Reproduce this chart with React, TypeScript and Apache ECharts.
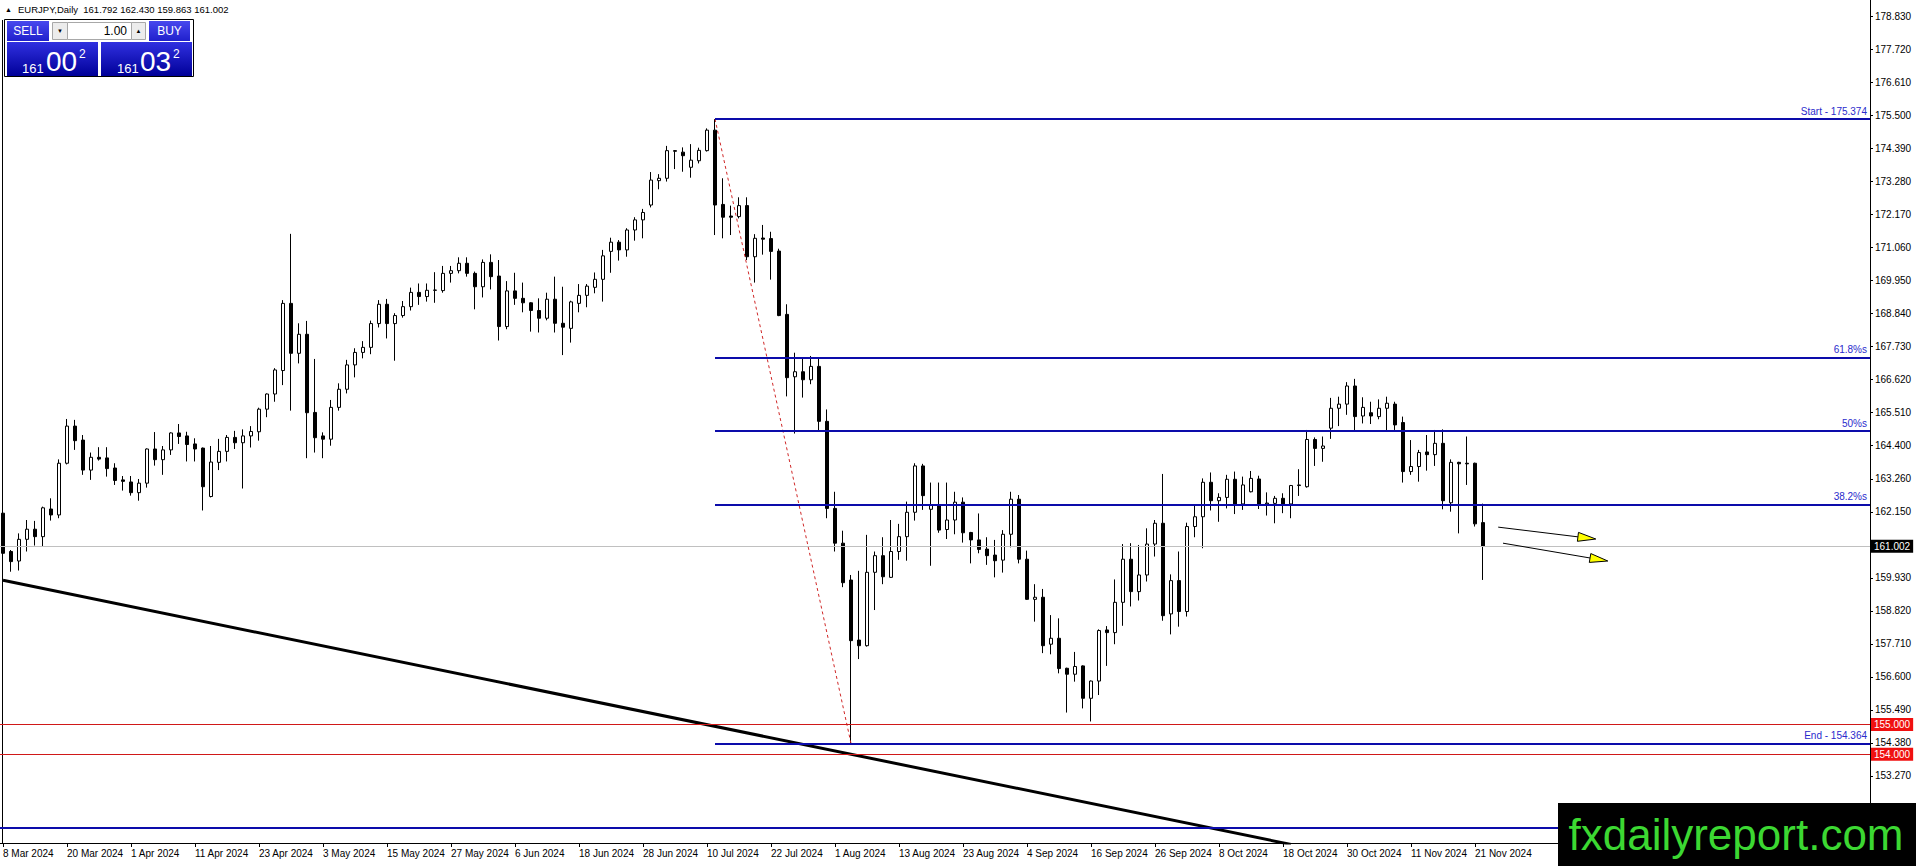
import { useEffect, useRef } from "react";
import * as echarts from "echarts";

// bar k*8 carries the k-th date label
const dateLabels = [
  "8 Mar 2024", "20 Mar 2024", "1 Apr 2024", "11 Apr 2024", "23 Apr 2024", "3 May 2024",
  "15 May 2024", "27 May 2024", "6 Jun 2024", "18 Jun 2024", "28 Jun 2024", "10 Jul 2024",
  "22 Jul 2024", "1 Aug 2024", "13 Aug 2024", "23 Aug 2024", "4 Sep 2024", "16 Sep 2024",
  "26 Sep 2024", "8 Oct 2024", "18 Oct 2024", "30 Oct 2024", "11 Nov 2024", "21 Nov 2024"
];

const priceTicks = [
  178.83, 177.72, 176.61, 175.5, 174.39, 173.28, 172.17, 171.06, 169.95, 168.84, 167.73,
  166.62, 165.51, 164.4, 163.26, 162.15, 159.93, 158.82, 157.71, 156.6, 155.49, 154.38, 153.27
];

// daily bars, [open, close, low, high]
const candles = [
  [162.11, 160.76, 160.56, 162.22], [160.82, 160.48, 160.14, 160.87], [160.5, 161.23, 160.18, 161.43],
  [161.23, 161.57, 160.82, 161.88], [161.57, 161.32, 161.02, 161.85], [161.32, 162.29, 160.98, 162.33],
  [162.25, 162.05, 161.86, 162.61], [162.05, 163.79, 161.94, 163.92], [163.79, 165.04, 163.75, 165.28],
  [165.04, 164.55, 164.24, 165.25], [164.57, 163.56, 163.4, 164.74], [163.56, 163.99, 163.23, 164.15],
  [163.99, 163.93, 163.88, 164.33], [163.97, 163.61, 163.34, 164.33], [163.63, 163.21, 163.06, 163.79],
  [163.23, 163.18, 162.87, 163.36], [163.16, 162.8, 162.7, 163.36], [162.8, 163.12, 162.53, 163.26],
  [163.12, 164.27, 162.97, 164.29], [164.27, 163.91, 163.71, 164.84], [163.91, 164.24, 163.4, 164.37],
  [164.24, 164.81, 164.07, 164.83], [164.81, 164.69, 164.44, 165.11], [164.71, 164.42, 163.85, 164.85],
  [164.44, 164.27, 163.85, 164.63], [164.3, 163.0, 162.2, 164.32], [162.67, 163.83, 162.64, 164.37],
  [163.82, 164.19, 163.56, 164.61], [164.19, 164.66, 163.85, 164.74], [164.66, 164.48, 164.27, 164.88],
  [164.48, 164.71, 162.94, 164.93], [164.71, 164.86, 164.32, 165.04], [164.85, 165.61, 164.55, 165.66],
  [165.61, 166.12, 165.34, 166.14], [166.12, 166.93, 165.86, 166.99], [166.91, 169.17, 166.42, 169.28],
  [169.17, 167.49, 165.56, 171.51], [167.49, 168.13, 167.15, 168.5], [168.13, 165.49, 163.96, 168.58],
  [165.5, 164.65, 164.15, 167.3], [164.71, 164.6, 163.96, 164.83], [164.6, 165.67, 164.38, 165.92],
  [165.67, 166.28, 165.56, 166.48], [166.28, 167.1, 166.14, 167.27], [167.1, 167.52, 166.68, 167.66],
  [167.52, 167.69, 167.32, 167.9], [167.69, 168.49, 167.46, 168.59], [168.49, 169.14, 168.36, 169.28],
  [169.14, 168.49, 167.99, 169.32], [168.49, 168.76, 167.24, 168.84], [168.76, 169.06, 168.69, 169.25],
  [169.06, 169.54, 168.93, 169.7], [169.54, 169.4, 169.12, 169.84], [169.4, 169.61, 169.23, 169.84],
  [169.61, 169.62, 169.19, 170.22], [169.6, 170.18, 169.53, 170.43], [170.18, 170.27, 169.87, 170.43],
  [170.27, 170.52, 170.18, 170.72], [170.52, 170.18, 170.07, 170.72], [170.18, 169.73, 168.97, 170.24],
  [169.73, 170.55, 169.37, 170.65], [170.55, 170.07, 169.64, 170.82], [170.09, 168.39, 167.92, 170.63],
  [168.39, 169.59, 168.3, 169.92], [169.59, 169.34, 169.12, 170.2], [169.34, 169.19, 168.87, 169.87],
  [169.19, 168.93, 168.22, 169.21], [168.93, 168.67, 168.19, 169.34], [168.67, 169.31, 168.6, 169.53],
  [169.31, 168.5, 168.19, 170.07], [168.5, 168.37, 167.43, 169.73], [168.33, 169.22, 167.85, 169.26],
  [169.17, 169.44, 168.87, 169.82], [169.44, 169.75, 169.04, 169.82], [169.71, 169.98, 169.51, 170.21],
  [169.98, 170.77, 169.23, 170.97], [170.92, 171.23, 170.2, 171.38], [171.23, 170.97, 170.61, 171.3],
  [170.97, 171.64, 170.74, 171.7], [171.64, 171.98, 171.28, 172.07], [171.98, 172.23, 171.36, 172.35],
  [172.48, 173.32, 172.4, 173.59], [173.3, 173.38, 173.01, 173.52], [173.38, 174.31, 173.27, 174.47],
  [174.31, 174.29, 173.69, 174.33], [174.26, 174.14, 173.6, 174.42], [173.75, 173.99, 173.4, 174.53],
  [173.97, 174.32, 173.88, 174.41], [174.31, 175.0, 174.28, 175.06], [175.0, 172.48, 171.47, 175.374],
  [172.5, 172.07, 171.36, 173.38], [172.11, 172.07, 171.47, 172.46], [172.09, 172.46, 172.03, 172.74],
  [172.46, 170.74, 170.63, 172.74], [170.74, 171.36, 169.87, 171.5], [171.37, 171.33, 170.81, 171.81],
  [171.35, 170.92, 169.97, 171.58], [170.93, 168.76, 168.74, 171.01], [168.8, 166.67, 166.04, 169.14],
  [166.7, 166.87, 164.79, 167.51], [166.87, 166.6, 166.0, 167.3], [166.6, 167.05, 166.45, 167.4],
  [167.05, 165.2, 164.9, 167.3], [165.2, 162.27, 161.94, 165.6], [162.27, 161.1, 160.82, 162.83],
  [161.1, 159.77, 159.62, 161.52], [159.86, 157.82, 154.364, 160.03], [157.84, 157.65, 157.2, 160.17],
  [157.65, 160.12, 157.62, 161.38], [160.12, 160.68, 158.85, 160.82], [160.68, 159.97, 159.72, 161.3],
  [159.95, 160.82, 159.93, 161.88], [160.82, 161.32, 160.54, 161.75], [161.32, 162.14, 160.51, 162.5],
  [162.14, 163.7, 161.86, 163.79], [163.7, 162.7, 162.22, 163.77], [162.24, 162.39, 160.34, 163.14],
  [162.35, 161.54, 161.45, 163.14], [161.56, 161.88, 161.24, 163.14], [161.88, 162.48, 161.4, 162.83],
  [162.48, 161.45, 161.12, 162.64], [161.46, 161.21, 160.42, 161.48], [161.21, 160.89, 160.76, 162.1],
  [160.9, 160.68, 160.37, 161.3], [160.7, 160.51, 159.95, 161.21], [160.53, 161.4, 160.11, 161.54],
  [161.4, 162.58, 160.96, 162.83], [162.58, 160.56, 160.42, 162.72], [160.56, 159.21, 159.19, 160.85],
  [159.21, 159.28, 158.46, 159.72], [159.28, 157.65, 157.4, 159.56], [157.7, 157.9, 157.36, 158.68],
  [157.9, 156.88, 156.72, 158.57], [156.89, 156.69, 155.4, 156.91], [156.69, 156.95, 156.44, 157.44],
  [156.97, 155.88, 155.54, 156.99], [155.88, 156.46, 155.1, 156.48], [156.46, 158.16, 155.99, 158.2],
  [158.18, 158.09, 156.97, 158.31], [158.09, 159.11, 157.7, 159.88], [159.11, 160.56, 158.32, 161.07],
  [160.56, 159.47, 158.97, 161.1], [159.47, 160.03, 159.17, 161.04], [160.03, 161.07, 159.81, 161.6],
  [161.07, 161.77, 160.65, 161.88], [161.77, 158.66, 158.49, 163.43], [158.72, 159.84, 158.03, 160.05],
  [159.84, 158.8, 158.29, 160.82], [158.8, 161.66, 158.63, 161.79], [161.66, 161.99, 161.3, 162.39],
  [161.99, 163.15, 160.93, 163.28], [163.15, 162.53, 162.2, 163.48], [162.53, 162.64, 161.82, 162.78],
  [162.64, 163.25, 162.27, 163.4], [163.25, 162.42, 162.08, 163.51], [162.42, 163.06, 162.22, 163.34],
  [162.83, 163.28, 162.81, 163.53], [163.26, 162.42, 162.25, 163.37], [162.42, 162.45, 162.03, 162.81],
  [162.44, 162.61, 161.77, 162.69], [162.61, 162.42, 162.11, 162.78], [162.42, 163.04, 161.94, 163.06],
  [163.04, 163.06, 162.69, 163.59], [163.0, 164.59, 162.97, 164.91], [164.59, 164.29, 163.7, 164.66],
  [164.29, 164.37, 163.84, 164.69], [164.97, 165.64, 164.61, 165.99], [165.64, 165.78, 165.04, 166.03],
  [165.78, 166.39, 165.42, 166.52], [166.39, 165.36, 164.85, 166.63], [165.38, 165.67, 165.13, 166.01],
  [165.49, 165.38, 165.11, 165.86], [165.36, 165.64, 165.27, 165.94], [165.64, 165.81, 164.89, 166.03],
  [165.78, 165.08, 164.91, 165.86], [165.16, 163.51, 163.14, 165.36], [163.51, 163.68, 163.4, 164.57],
  [163.68, 164.15, 163.17, 164.24], [164.17, 164.08, 163.54, 164.74], [164.08, 164.46, 163.7, 164.91],
  [164.46, 162.53, 162.24, 164.93], [162.46, 163.82, 162.16, 163.92], [163.82, 163.77, 161.43, 163.84],
  [163.79, 163.77, 163.06, 164.69], [163.79, 161.75, 161.66, 163.81], [161.792, 161.002, 159.863, 162.43]
];

// fibonacci object: anchored on the 11 Jul high and the 5 Aug low
const fibStartBar = 89;
const fibEndBar = 106;
const fibPrices = [175.374, 167.348, 164.869, 162.39, 154.364];
const fibNames = ["Start - 175.374", "61.8%s", "50%s", "38.2%s", "End - 154.364"];

const trendLine = [[0, 159.85], [161, 150.96]];
// [fromBar, fromPrice, toBar, toPrice]
const arrows = [
  [186.9, 161.64, 199.1, 161.24],
  [187.5, 161.1, 200.6, 160.5]
];

const lastPrice = 161.002;
const roundLevels = [155.0, 154.0];
const supportLine = 151.54;

const X_MIN = -0.375;
const X_MAX = 233.375;
const Y_MIN = 151.01;
const Y_MAX = 179.38;

const FONT = "'Liberation Sans', Arial, sans-serif";
const FIB_BLUE = "#0c0caa";

const gradient = (top: string, bottom: string) => ({
  type: "linear",
  x: 0,
  y: 0,
  x2: 0,
  y2: 1,
  colorStops: [
    { offset: 0, color: top },
    { offset: 1, color: bottom }
  ]
});

// the one-click trading box in the top left corner
function tradePanel() {
  const txt = (x: number, y: number, text: string, size: number, fill = "#fff", align = "left") => ({
    type: "text",
    x,
    y,
    style: { text, fill, fontSize: size, fontFamily: FONT, align, verticalAlign: "middle" }
  });
  return [
    txt(5, 9.5, "▲", 7, "#000"),
    txt(18, 9.5, "EURJPY,Daily  161.792 162.430 159.863 161.002", 9.5, "#000"),
    { type: "rect", shape: { x: 4.5, y: 19.5, width: 189, height: 57 }, style: { fill: "#fff", stroke: "#000", lineWidth: 1 } },
    { type: "rect", shape: { x: 7, y: 21, width: 42, height: 20 }, style: { fill: gradient("#4848ee", "#2020cc") } },
    txt(28, 31, "SELL", 12, "#fff", "center"),
    { type: "rect", shape: { x: 52.5, y: 22.5, width: 15, height: 17 }, style: { fill: "#ececec", stroke: "#a8a8a8" } },
    txt(60, 31, "▼", 6, "#000", "center"),
    { type: "rect", shape: { x: 67.5, y: 22.5, width: 64, height: 17 }, style: { fill: "#fff", stroke: "#a8a8a8" } },
    txt(127, 31, "1.00", 12, "#000", "right"),
    { type: "rect", shape: { x: 131.5, y: 22.5, width: 14, height: 17 }, style: { fill: "#ececec", stroke: "#a8a8a8" } },
    txt(138.5, 31, "▲", 6, "#000", "center"),
    { type: "rect", shape: { x: 149, y: 21, width: 41, height: 20 }, style: { fill: gradient("#4848ee", "#2020cc") } },
    txt(169.5, 31, "BUY", 12, "#fff", "center"),
    { type: "rect", shape: { x: 7, y: 42, width: 91, height: 34 }, style: { fill: gradient("#3030e0", "#000098") } },
    { type: "rect", shape: { x: 101, y: 42, width: 91, height: 34 }, style: { fill: gradient("#3030e0", "#000098") } },
    txt(22, 68, "161", 13),
    txt(46, 61.5, "00", 28),
    txt(79, 54, "2", 12),
    txt(117, 68, "161", 13),
    txt(140, 61.5, "03", 28),
    txt(173, 54, "2", 12),
    { type: "line", shape: { x1: 2.5, y1: 20, x2: 2.5, y2: 843 }, style: { stroke: "#000", lineWidth: 1 } }
  ];
}

export default function App() {
  const ref = useRef<HTMLDivElement | null>(null);

  useEffect(() => {
    if (!ref.current) {
      return;
    }

    const chart = echarts.init(ref.current, null, { renderer: "svg" });
    const labelBars = dateLabels.map((_, k) => k * 8);

    const boxLabel = (bg: string, value: number) => ({
      show: true,
      position: "end",
      distance: 1,
      formatter: value.toFixed(3),
      backgroundColor: bg,
      color: "#fff",
      fontSize: 10,
      fontFamily: FONT,
      padding: [2, 3, 1, 3]
    });

    chart.setOption({
      animation: false,
      backgroundColor: "#fff",
      grid: {
        bottom: 23,
        left: 0,
        right: 46,
        top: 0
      },
      xAxis: {
        type: "value",
        min: X_MIN,
        max: X_MAX,
        axisLine: { onZero: false, lineStyle: { color: "#000", width: 1 } },
        axisTick: { customValues: labelBars, length: 4, lineStyle: { color: "#000" } },
        axisLabel: {
          customValues: labelBars,
          formatter: (v: number) => dateLabels[Math.round(v / 8)] ?? "",
          align: "left",
          color: "#000",
          fontSize: 10,
          fontFamily: FONT,
          margin: 5
        },
        splitLine: { show: false }
      },
      yAxis: {
        type: "value",
        position: "right",
        min: Y_MIN,
        max: Y_MAX,
        axisLine: { show: true, onZero: false, lineStyle: { color: "#000", width: 1 } },
        axisTick: { show: true, customValues: priceTicks, length: 3, lineStyle: { color: "#000" } },
        axisLabel: {
          customValues: priceTicks,
          formatter: (v: number) => v.toFixed(3),
          color: "#000",
          fontSize: 10,
          fontFamily: FONT,
          margin: 5
        },
        splitLine: { show: false }
      },
      series: [
        {
          type: "candlestick",
          data: candles.map((c, i) => [i, c[0], c[1], c[2], c[3]]),
          encode: { x: 0, y: [1, 2, 3, 4] },
          barWidth: 4,
          silent: true,
          itemStyle: {
            color: "#fff",
            color0: "#000",
            borderColor: "#000",
            borderColor0: "#000",
            borderColorDoji: "#000",
            borderWidth: 1
          },
          markLine: {
            silent: true,
            symbol: ["none", "none"],
            animation: false,
            data: [
              ...fibPrices.map((p, k) => [
                {
                  coord: [fibStartBar, p],
                  lineStyle: { color: FIB_BLUE, width: 2, type: "solid" },
                  label: {
                    show: true,
                    position: "insideEndTop",
                    formatter: fibNames[k],
                    color: "#2a2acc",
                    fontSize: 10,
                    fontFamily: FONT,
                    distance: 3
                  }
                },
                { coord: [X_MAX, p] }
              ]),
              {
                yAxis: supportLine,
                lineStyle: { color: FIB_BLUE, width: 2, type: "solid" },
                label: { show: false }
              },
              {
                yAxis: lastPrice,
                lineStyle: { color: "#c0c0c0", width: 1, type: "solid" },
                label: boxLabel("#000", lastPrice)
              },
              ...roundLevels.map((p) => ({
                yAxis: p,
                lineStyle: { color: "#d01818", width: 1, type: "solid" },
                label: boxLabel("#f01010", p)
              }))
            ]
          }
        },
        {
          type: "line",
          data: trendLine,
          symbol: "none",
          clip: true,
          silent: true,
          lineStyle: { color: "#000", width: 3 },
          z: 4
        },
        {
          type: "line",
          data: [
            [fibStartBar, fibPrices[0]],
            [fibEndBar, fibPrices[fibPrices.length - 1]]
          ],
          symbol: "none",
          silent: true,
          lineStyle: { color: "#d02828", width: 1, type: [3, 3] },
          z: 4
        },
        {
          type: "custom",
          data: arrows,
          encode: { x: [0, 2], y: [1, 3] },
          silent: true,
          z: 6,
          renderItem: (_params: unknown, api: any) => {
            const s = api.coord([api.value(0), api.value(1)]);
            const e = api.coord([api.value(2), api.value(3)]);
            const dx = e[0] - s[0];
            const dy = e[1] - s[1];
            const len = Math.hypot(dx, dy);
            const ux = dx / len;
            const uy = dy / len;
            const headLen = 18;
            const halfW = 4.5;
            const b = [e[0] - ux * headLen, e[1] - uy * headLen];
            return {
              type: "group",
              children: [
                {
                  type: "line",
                  shape: { x1: s[0], y1: s[1], x2: b[0], y2: b[1] },
                  style: { stroke: "#000", lineWidth: 1 }
                },
                {
                  type: "polygon",
                  shape: {
                    points: [
                      e,
                      [b[0] - uy * halfW, b[1] + ux * halfW],
                      [b[0] + uy * halfW, b[1] - ux * halfW]
                    ]
                  },
                  style: { fill: "#ffff00", stroke: "#000", lineWidth: 1 }
                }
              ]
            };
          }
        }
      ],
      graphic: [
        ...tradePanel(),
        {
          type: "rect",
          z: 100,
          shape: { x: 1558, y: 803, width: 358, height: 63 },
          style: { fill: "#000" }
        },
        {
          type: "text",
          z: 101,
          x: 1736,
          y: 834,
          style: {
            text: "fxdailyreport.com",
            fill: "#3cd832",
            fontSize: 44,
            fontFamily: FONT,
            align: "center",
            verticalAlign: "middle"
          }
        }
      ]
    });

    return () => {
      chart.dispose();
    };
  }, []);

  return (
    <div
      ref={ref}
      style={{ position: "fixed", left: 0, top: 0, width: 1916, height: 866, background: "#fff" }}
    />
  );
}
